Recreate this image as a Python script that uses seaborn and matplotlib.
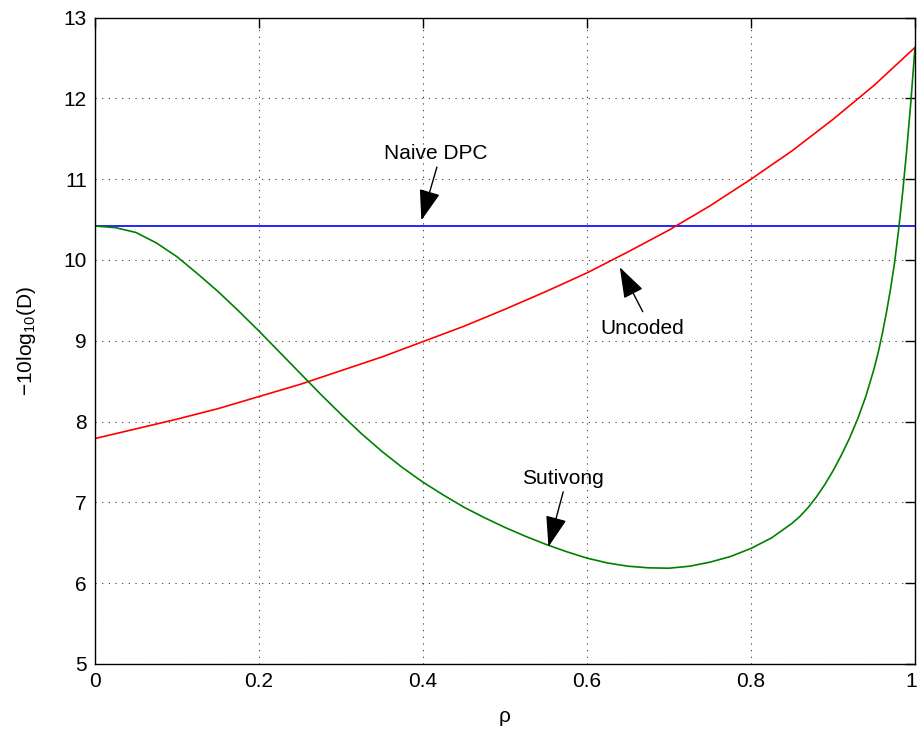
import numpy as np
import pandas as pd
import matplotlib
matplotlib.use("Agg")
import matplotlib.pyplot as plt
import matplotlib.transforms as mtransforms
import seaborn as sns

sns.set_theme(style="white")
plt.rcParams['font.family'] = ['Liberation Sans', 'DejaVu Sans']
plt.rcParams['text.color'] = 'black'
plt.rcParams['axes.labelcolor'] = 'black'
plt.rcParams['mathtext.fontset'] = 'custom'
plt.rcParams['mathtext.rm'] = 'Liberation Sans'
plt.rcParams['mathtext.default'] = 'regular'

# values
rho_naive = [0.0, 1.0]
d_naive = [10.42, 10.42]

rho_uncoded = [0.0, 0.05, 0.1, 0.15, 0.2, 0.25, 0.3, 0.35, 0.4, 0.45, 0.5,
               0.55, 0.6, 0.65, 0.7, 0.75, 0.8, 0.85, 0.9, 0.95, 1.0]
d_uncoded = [7.79, 7.91, 8.03, 8.16, 8.31, 8.46, 8.63, 8.80, 8.99, 9.18, 9.39,
             9.61, 9.84, 10.10, 10.37, 10.67, 11.00, 11.35, 11.74, 12.16, 12.63]

rho_sutivong = [0.0, 0.025, 0.05, 0.075, 0.1, 0.125, 0.15, 0.175, 0.2, 0.225,
                0.25, 0.275, 0.3, 0.325, 0.35, 0.375, 0.4, 0.425, 0.45, 0.475,
                0.5, 0.525, 0.55, 0.575, 0.6, 0.625, 0.65, 0.675, 0.7, 0.725,
                0.75, 0.775, 0.8, 0.825, 0.85, 0.86, 0.87, 0.88, 0.89, 0.9,
                0.91, 0.92, 0.93, 0.94, 0.95, 0.955, 0.96, 0.965, 0.97, 0.975,
                0.98, 0.985, 0.99, 0.995, 1.0]
d_sutivong = [10.42, 10.40, 10.34, 10.21, 10.04, 9.83, 9.61, 9.37, 9.12, 8.86,
              8.60, 8.34, 8.09, 7.85, 7.63, 7.43, 7.25, 7.09, 6.94, 6.81,
              6.69, 6.58, 6.48, 6.39, 6.31, 6.25, 6.21, 6.19, 6.185, 6.21,
              6.26, 6.33, 6.43, 6.56, 6.74, 6.83, 6.94, 7.07, 7.22, 7.39,
              7.58, 7.79, 8.03, 8.31, 8.65, 8.85, 9.08, 9.34, 9.63, 9.96,
              10.37, 10.84, 11.37, 11.96, 12.63]

fig = plt.figure(figsize=(9.17, 7.29), dpi=100)
ax = fig.add_axes([0.1036, 0.0892, 0.8942, 0.8867])

sns.lineplot(x=rho_naive, y=d_naive, color='#0000ff', lw=1.2, ax=ax)
sns.lineplot(x=rho_uncoded, y=d_uncoded, color='#ff0000', lw=1.2, ax=ax)
sns.lineplot(x=rho_sutivong, y=d_sutivong, color='#008000', lw=1.2, ax=ax)

ax.set_xlim(0, 1)
ax.set_ylim(5, 13)
ax.set_xticks([0, 0.2, 0.4, 0.6, 0.8, 1])
ax.set_xticklabels(['0', '0.2', '0.4', '0.6', '0.8', '1'])
ax.set_yticks(range(5, 14))
ax.tick_params(direction='in', length=7, width=1, top=True, right=True,
               labelsize=15, colors='black', pad=6)
ax.grid(True, color='black', linestyle=(0, (1, 5)), lw=0.8, alpha=0.8)
for s in ax.spines.values():
    s.set_color('black')
    s.set_linewidth(1.0)

# keep the last x tick label inside the canvas
last = ax.get_xticklabels()[-1]
last.set_transform(last.get_transform() +
                   mtransforms.ScaledTranslation(-3 / 72, 0, fig.dpi_scale_trans))

ax.set_xlabel('ρ', fontsize=15, labelpad=11)
ax.set_ylabel('−10log$_{10}$(D)', fontsize=15, labelpad=18)

arrow = dict(arrowstyle='-|>,head_length=1.6,head_width=0.55', color='black',
             lw=1.0, shrinkA=0, shrinkB=0)
ax.annotate('', xy=(0.398, 10.49), xytext=(0.417, 11.15), arrowprops=arrow)
ax.text(0.415, 11.32, 'Naive DPC', fontsize=15, ha='center', va='center')

ax.annotate('', xy=(0.640, 9.91), xytext=(0.668, 9.36), arrowprops=arrow)
ax.text(0.667, 9.15, 'Uncoded', fontsize=15, ha='center', va='center')

ax.annotate('', xy=(0.553, 6.45), xytext=(0.571, 7.13), arrowprops=arrow)
ax.text(0.571, 7.30, 'Sutivong', fontsize=15, ha='center', va='center')

fig.savefig('out.png', dpi=100)
